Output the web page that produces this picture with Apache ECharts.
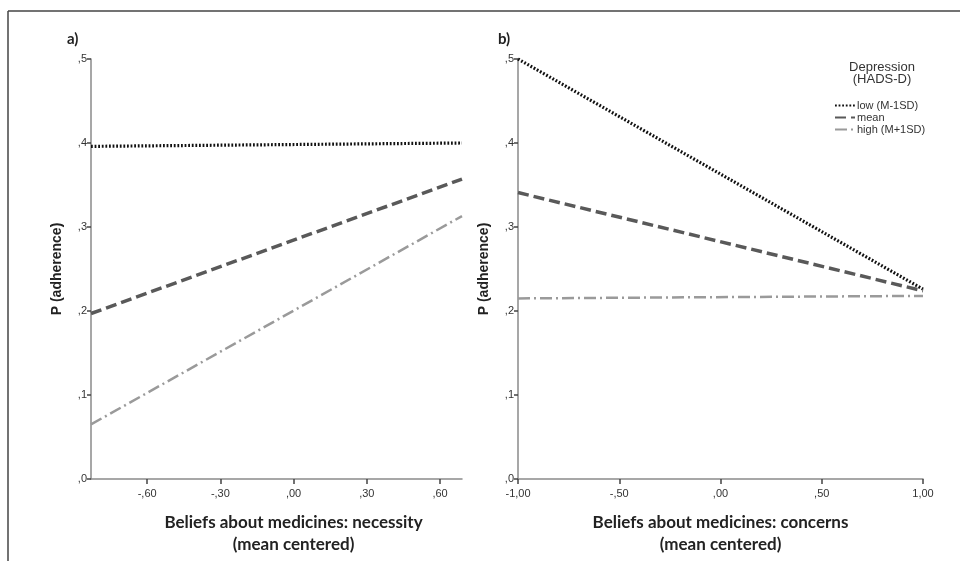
<!DOCTYPE html>
<html>
<head>
<meta charset="utf-8">
<script src="https://cdn.jsdelivr.net/npm/echarts@6/dist/echarts.min.js"></script>
<style>html,body{margin:0;padding:0;background:#fff}#c{width:960px;height:561px}</style>
</head>
<body>
<div id="c"></div>
<script>
// Panel a) necessity (x endpoints)
const necessityX = [-0.83, 0.69];
const aLow = [0.396, 0.400];
const aMean = [0.197, 0.357];
const aHigh = [0.065, 0.313];
// Panel b) concerns
const concernsX = [-1.0, 1.0];
const bLow = [0.500, 0.226];
const bMean = [0.341, 0.224];
const bHigh = [0.215, 0.218];
// Ticks
const necessityTicks = [-0.6, -0.3, 0, 0.3, 0.6];
const concernsTicks = [-1, -0.5, 0, 0.5, 1];
const seriesNames = ['low (M-1SD)', 'mean', 'high (M+1SD)'];

function fmt(v, d) {
  let s = Math.abs(v).toFixed(d).replace('.', ',');
  if (s.startsWith('0,')) s = s.slice(1);
  return (v < -1e-9 ? '-' : '') + s;
}
function pts(xs, ys) { return xs.map((x, i) => [x, ys[i]]); }

const styles = [
  { color: '#111', width: 3.2, type: [1.8, 1.8] },
  { color: '#595959', width: 3.5, type: [11, 5] },
  { color: '#9a9a9a', width: 2.5, type: [12, 4, 2, 4] }
];

const lblFont = { color: '#333', fontFamily: 'Liberation Sans', fontSize: 11 };

function yAxis(grid) {
  return {
    type: 'value', gridIndex: grid, min: 0, max: 0.5, interval: 0.1,
    name: 'P (adherence)', nameLocation: 'middle', nameGap: 27, nameRotate: 90,
    nameTextStyle: { fontFamily: 'Liberation Sans', fontWeight: 'bold', fontSize: 14, color: '#222' },
    axisLine: { show: true, onZero: false, lineStyle: { color: '#8a8a8a', width: 1.5 } },
    axisTick: { show: true, length: 4, lineStyle: { color: '#444', width: 1.5 } },
    axisLabel: Object.assign({ margin: 4, formatter: v => fmt(v, 1) }, lblFont),
    splitLine: { show: false }
  };
}

const xNameStyle = { fontFamily: 'Lato', fontWeight: 'bold', fontSize: 17, color: '#222', lineHeight: 22, verticalAlign: 'top' };

function mk(i, xs, ys, grid) {
  return {
    name: seriesNames[i], type: 'line', xAxisIndex: grid, yAxisIndex: grid,
    data: pts(xs, ys), symbol: 'none', silent: true,
    lineStyle: { color: styles[i].color, width: styles[i].width, type: styles[i].type },
    itemStyle: { color: styles[i].color }
  };
}

const chart = echarts.init(document.getElementById('c'));
chart.setOption({
  animation: false,
  backgroundColor: '#fff',
  grid: [
    { left: 91, right: 498, top: 59, bottom: 81 },
    { left: 518, right: 37, top: 59, bottom: 81 }
  ],
  title: [
    { text: 'a)', left: 62, top: 27, textStyle: { fontFamily: 'Lato', fontWeight: 'bold', fontSize: 15, color: '#222' } },
    { text: 'b)', left: 493, top: 27, textStyle: { fontFamily: 'Lato', fontWeight: 'bold', fontSize: 15, color: '#222' } },
    { text: 'Depression\n(HADS-D)', left: 877, top: 56, textAlign: 'center',
      textStyle: { fontFamily: 'Liberation Sans', fontWeight: 'normal', fontSize: 13, lineHeight: 12, color: '#333' } }
  ],
  legend: {
    orient: 'vertical', left: 829, top: 95, itemWidth: 20, itemHeight: 8, itemGap: 1,
    data: seriesNames,
    itemStyle: { opacity: 0 },
    textStyle: { fontFamily: 'Liberation Sans', fontSize: 11, color: '#333', padding: [0, 0, 0, -3] }
  },
  xAxis: [
    {
      type: 'value', gridIndex: 0, min: necessityX[0], max: necessityX[1],
      name: 'Beliefs about medicines: necessity\n(mean centered)', nameLocation: 'middle', nameGap: 33,
      nameTextStyle: Object.assign({}, xNameStyle, { padding: [0, 0, 0, 34] }),
      axisLine: { show: true, onZero: false, lineStyle: { color: '#8a8a8a', width: 1.5 } },
      axisTick: { show: true, length: 5, customValues: necessityTicks, lineStyle: { color: '#444', width: 1.5 } },
      axisLabel: Object.assign({ margin: 9, customValues: necessityTicks, formatter: v => fmt(v, 2) }, lblFont),
      splitLine: { show: false }
    },
    {
      type: 'value', gridIndex: 1, min: -1, max: 1, interval: 0.5,
      name: 'Beliefs about medicines: concerns\n(mean centered)', nameLocation: 'middle', nameGap: 33,
      nameTextStyle: xNameStyle,
      axisLine: { show: true, onZero: false, lineStyle: { color: '#8a8a8a', width: 1.5 } },
      axisTick: { show: true, length: 5, lineStyle: { color: '#444', width: 1.5 } },
      axisLabel: Object.assign({ margin: 9, formatter: v => fmt(v, 2) }, lblFont),
      splitLine: { show: false }
    }
  ],
  yAxis: [yAxis(0), yAxis(1)],
  series: [
    mk(0, necessityX, aLow, 0), mk(1, necessityX, aMean, 0), mk(2, necessityX, aHigh, 0),
    mk(0, concernsX, bLow, 1), mk(1, concernsX, bMean, 1), mk(2, concernsX, bHigh, 1)
  ],
  graphic: [
    { type: 'line', shape: { x1: 8, y1: 11, x2: 960, y2: 11 }, style: { stroke: '#444', lineWidth: 1.5 } },
    { type: 'line', shape: { x1: 8, y1: 11, x2: 8, y2: 561 }, style: { stroke: '#444', lineWidth: 1.5 } }
  ]
});
</script>
</body>
</html>
